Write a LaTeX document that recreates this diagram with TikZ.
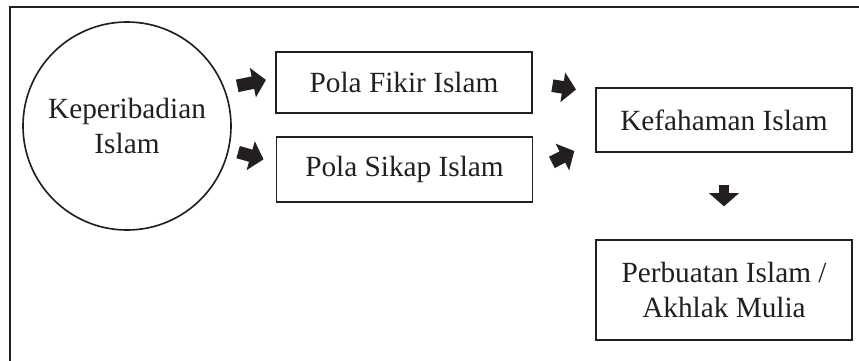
\documentclass[tikz,border=0pt]{standalone}
\usepackage{fontspec}
\setmainfont{Liberation Serif}
\usetikzlibrary{arrows.meta}
\definecolor{ink}{RGB}{35,31,32}
\tikzset{>={Triangle[width=0.88cm,length=0.40cm]}}
\tikzstyle{box}=[draw=ink,line width=1.6pt,minimum width=7.68cm,
                 align=center,text=ink,inner sep=0]
\tikzstyle{fat}=[->,ink,line width=0.38cm]

\begin{document}
\begin{tikzpicture}[x=0.03cm,y=-0.03cm,font=\fontsize{25}{29.5}\selectfont]
  \useasboundingbox (0,0) rectangle (859,361);

  % FRAME
  \draw[ink,line width=1.9pt] (10,361) -- (10,7) -- (859,7);

  % NODES
  \node[circle,draw=ink,line width=1.4pt,minimum size=6.24cm,align=center,
        text=ink,inner sep=0] (keperibadian) at (127,126) {Keperibadian\\Islam};
  \node[box,minimum height=1.83cm] (fikir) at (404,82.5) {Pola Fikir Islam};
  \node[box,minimum height=1.95cm] (sikap) at (404.5,169.5) {Pola Sikap Islam};
  \node[box,minimum height=1.92cm] (kefahaman) at (724,120) {Kefahaman Islam};
  \node[box,minimum height=3cm] (perbuatan) at (724,290)
    {Perbuatan Islam /\\Akhlak Mulia};

  % BLOCK ARROWS
  \draw[fat,shorten <=0.38cm,shorten >=0.28cm]
    (keperibadian.21) -- (fikir.178);
  \draw[fat,shorten <=0.28cm,shorten >=0.375cm]
    (keperibadian.-13) -- (sikap.177.4);
  \draw[fat,shorten <=0.59cm,shorten >=0.58cm]
    (fikir.0) -- (kefahaman.168);
  \draw[fat,shorten <=0.62cm,shorten >=0.70cm]
    (sikap.-1) -- (kefahaman.189);
  \draw[fat,line width=0.3cm,shorten <=0.96cm,shorten >=0.98cm]
    (kefahaman.south) -- (perbuatan.north);

\end{tikzpicture}
\end{document}
